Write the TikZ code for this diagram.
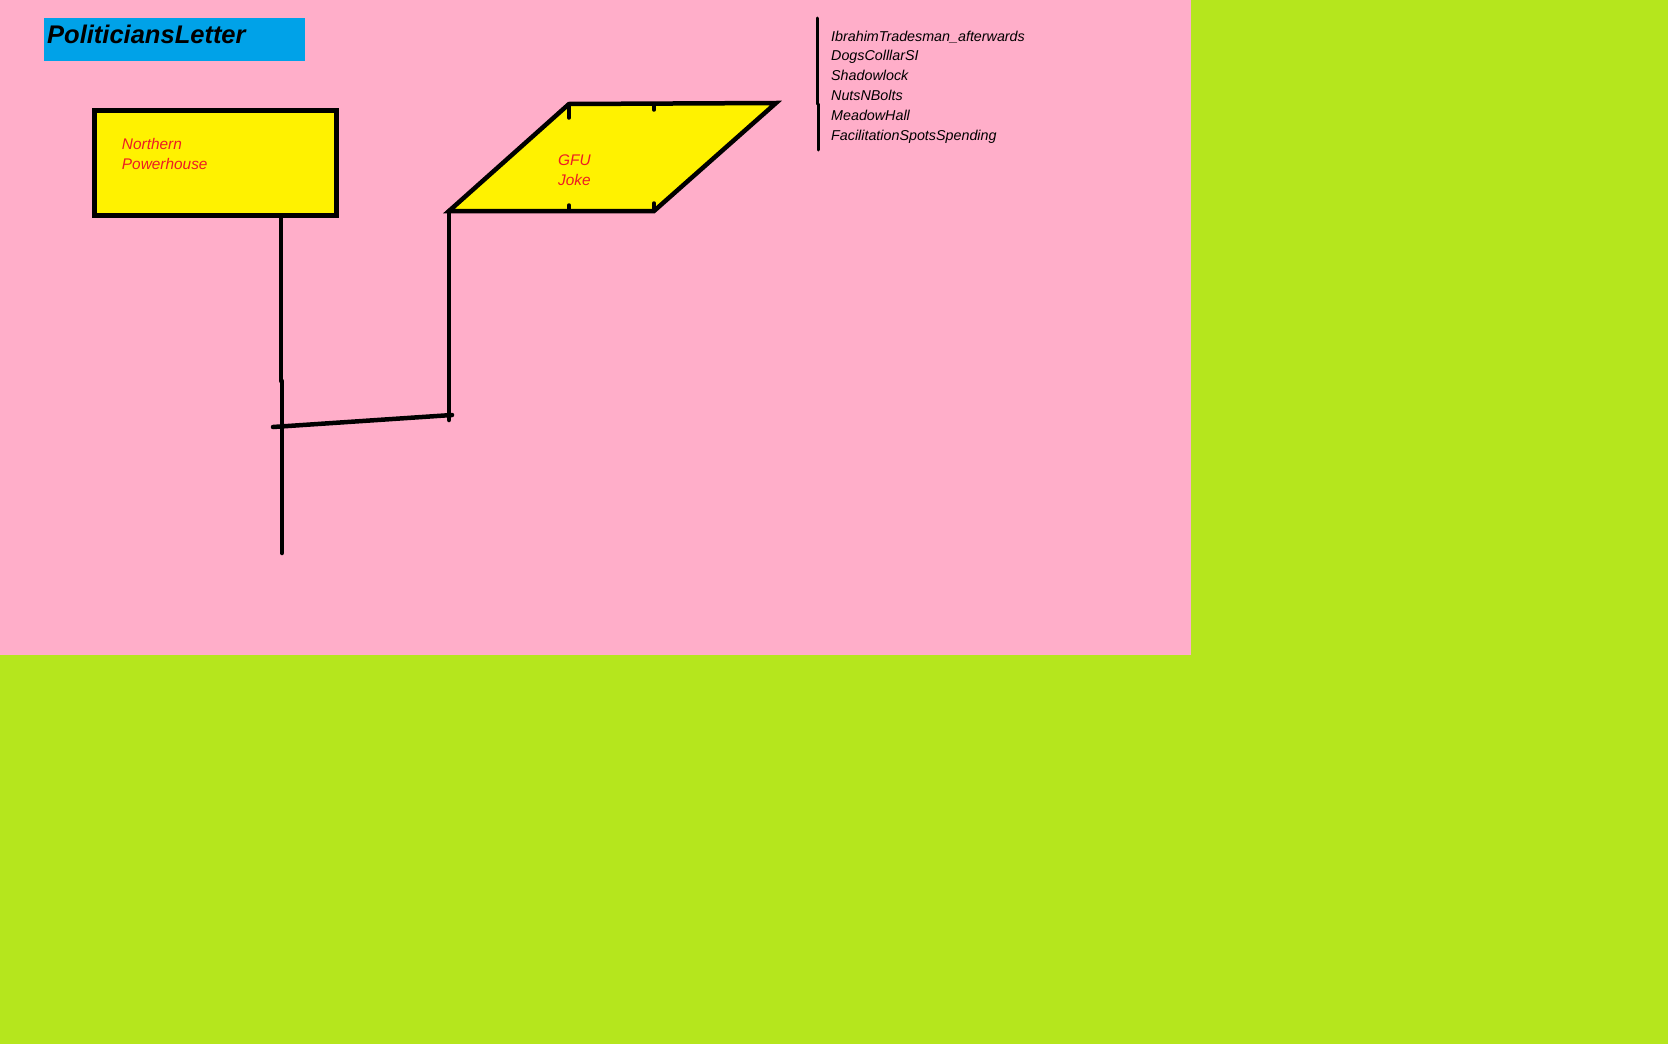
\documentclass[tikz,border=0pt]{standalone}
\usepackage{fontspec}
\setmainfont{Liberation Sans}
\usetikzlibrary{positioning}
\definecolor{paintrose}{HTML}{FFAEC9}
\definecolor{paintlime}{HTML}{B5E61D}
\definecolor{paintblue}{HTML}{00A2E8}
\definecolor{paintyellow}{HTML}{FFF200}
\definecolor{paintred}{HTML}{ED1C24}

\begin{document}
\begin{tikzpicture}[x=1pt, y=-1pt, line cap=round, every node/.style={inner sep=0pt}, wire/.style={line width=4.5pt}, shapebox/.style={draw, line width=4.5pt, fill=paintyellow}, redtext/.style={text=paintred, align=left, font=\itshape\fontsize{15.4}{19.5}\selectfont}, listtext/.style={align=left, font=\itshape\fontsize{14.3}{19.8}\selectfont}]
\fill[paintlime] (0,0) rectangle (1668,1044);
\fill[paintrose] (0,0) rectangle (1191,655);
\useasboundingbox (0,0) rectangle (1668,1044);
% title
\node[fill=paintblue, anchor=north west, minimum width=261pt, minimum height=43pt, text width=255pt, text height=18pt, text depth=10pt, align=left, font=\bfseries\itshape\fontsize{25.5}{28}\selectfont] (title) at (44,18) {PoliticiansLetter};
% boxes
\node[shapebox, minimum width=242pt, minimum height=105pt] (np) at (215.5,163) {};
\node[redtext, below right=30pt and 29.5pt of np.north west] (np text) {Northern\\Powerhouse};
\coordinate (gfu sw) at (449,211); \coordinate (gfu nw) at (569,104);
\coordinate (gfu ne) at (776,103); \coordinate (gfu se) at (654,211);
\filldraw[shapebox] (gfu sw) -- (gfu nw) -- (gfu ne) -- (gfu se) -- cycle;
\draw[line width=3.5pt] (gfu nw) -- ++(0,14) (gfu nw -| gfu se) -- ++(0,6) (gfu sw -| gfu nw) -- ++(0,-6) (gfu se) -- ++(0,-8);
\node[redtext, anchor=north west] (gfu text) at (558,155) {GFU\\Joke};
% list
\node[listtext, anchor=north west] (names) at (831,30.5) {IbrahimTradesman\_afterwards\\DogsColllarSI\\Shadowlock\\NutsNBolts\\MeadowHall\\FacilitationSpotsSpending};
\coordinate (bar top) at (817,18); \coordinate (bar mid) at (817,104); \coordinate (bar end) at (818,150);
\draw[line width=3pt] (bar top) -- (bar mid) ([xshift=1pt]bar mid) -- (bar end);
% connectors
\coordinate (stem) at (281,381); \coordinate (stem foot) at (282,553);
\coordinate (cross) at (273,427); \coordinate (join) at (449,420);
\draw[wire] (np.south -| stem) -- (stem);
\draw[wire] (stem foot |- stem) -- (stem foot);
\draw[wire] (gfu sw) -- (join);
\draw[wire] (cross) -- ([xshift=3pt,yshift=5pt]join);
\end{tikzpicture}
\end{document}
